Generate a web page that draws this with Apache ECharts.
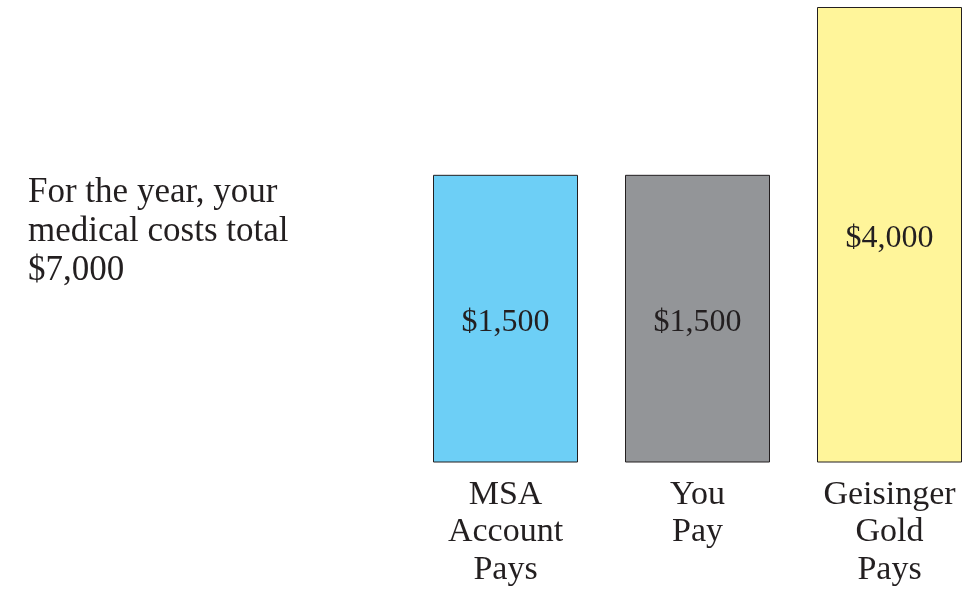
<!DOCTYPE html>
<html>
<head>
<meta charset="utf-8">
<script src="https://cdn.jsdelivr.net/npm/echarts@6/dist/echarts.min.js"></script>
<style>html,body{margin:0;padding:0;background:#fff}#c{width:974px;height:589px}</style>
</head>
<body>
<div id="c"></div>
<script>
const categories = ['MSA\nAccount\nPays', 'You\nPay', 'Geisinger\nGold\nPays'];
const values = [1500, 1500, 4000];
const valueLabels = ['$1,500', '$1,500', '$4,000'];
const colors = ['#6dcff6', '#939598', '#fff59a'];
const noteText = 'For the year, your\nmedical costs total\n$7,000';

const FONT = '"Liberation Serif", serif';
const chart = echarts.init(document.getElementById('c'));
chart.setOption({
  animation: false,
  backgroundColor: '#ffffff',
  title: {
    text: noteText,
    left: 28, top: 173, padding: 0,
    textStyle: { fontFamily: FONT, fontSize: 35, fontWeight: 'normal', color: '#231f20', lineHeight: 39 }
  },
  grid: { left: 409.5, top: 7, bottom: 127, width: 576, containLabel: false, outerBoundsMode: 'none' },
  xAxis: {
    type: 'category',
    data: categories,
    axisLine: { show: false },
    axisTick: { show: false },
    axisLabel: { interval: 0, margin: 14, fontFamily: FONT, fontSize: 34, color: '#231f20', lineHeight: 37.5 }
  },
  yAxis: {
    type: 'log',
    min: 280, max: 4000,
    show: false,
    splitLine: { show: false }
  },
  series: [{
    type: 'bar',
    barWidth: 145,
    data: values.map((v, i) => ({ value: v, itemStyle: { color: colors[i] } })),
    itemStyle: { borderColor: '#231f20', borderWidth: 1 },
    label: {
      show: true, position: 'inside', offset: [0, 4],
      formatter: p => valueLabels[p.dataIndex],
      fontFamily: FONT, fontSize: 32, color: '#231f20'
    }
  }]
});
</script>
</body>
</html>
